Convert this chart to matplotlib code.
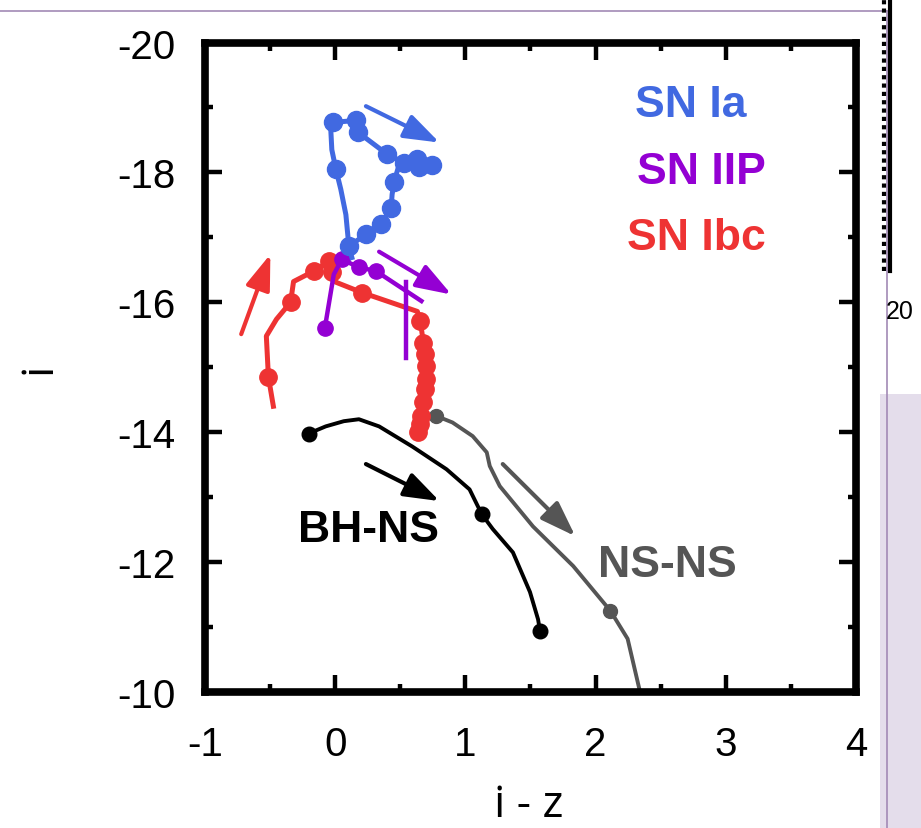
import matplotlib
matplotlib.use("Agg")
import matplotlib.pyplot as plt
from matplotlib.patches import FancyArrowPatch, Rectangle
from matplotlib.lines import Line2D

plt.rcParams['font.family'] = ['Liberation Sans', 'DejaVu Sans']
plt.rcParams['axes.unicode_minus'] = False

# ---------------- data ----------------
# SN Ia (blue)
ia_x = [0.128, 0.105, 0.082, 0.043, 0.005, -0.026, -0.034, -0.019, 0.159, 0.174,
        0.399, 0.530, 0.631, 0.747, 0.646, 0.491, 0.453, 0.437, 0.430, 0.352, 0.236, 0.105]
ia_y = [-16.69, -16.86, -17.35, -17.74, -18.05, -18.35, -18.66, -18.77, -18.80, -18.62,
        -18.28, -18.15, -18.20, -18.12, -18.08, -18.12, -17.86, -17.66, -17.46, -17.20, -17.05, -16.86]
ia_dot_x = [0.105, 0.005, -0.019, 0.159, 0.174, 0.399, 0.530, 0.631, 0.646, 0.747,
            0.453, 0.430, 0.352, 0.236]
ia_dot_y = [-16.86, -18.05, -18.77, -18.80, -18.62, -18.28, -18.15, -18.20, -18.08, -18.12,
            -17.86, -17.46, -17.20, -17.05]

# SN IIP (purple)
iip_x = [-0.080, -0.011, 0.051, 0.182, 0.314, 0.662]
iip_y = [-15.60, -16.43, -16.66, -16.54, -16.48, -16.02]
iip_dot_x = [-0.080, 0.051, 0.182, 0.314]
iip_dot_y = [-15.60, -16.66, -16.54, -16.48]
iip_drop_x = [0.546, 0.546]
iip_drop_y = [-16.31, -15.15]

# SN Ibc (red)
ibc_x = [-0.475, -0.513, -0.529, -0.451, -0.343, -0.320, -0.165, -0.049, -0.026, 0.005,
         0.206, 0.631, 0.654, 0.677, 0.692, 0.700, 0.700, 0.692, 0.677, 0.662, 0.638]
ibc_y = [-14.40, -14.85, -15.48, -15.74, -16.00, -16.32, -16.48, -16.63, -16.46, -16.31,
         -16.15, -15.86, -15.71, -15.38, -15.20, -15.02, -14.82, -14.66, -14.46, -14.25, -14.00]
ibc_dot_x = [-0.513, -0.343, -0.165, -0.049, -0.026, 0.206, 0.654, 0.677, 0.692, 0.700,
             0.700, 0.692, 0.677, 0.662, 0.650, 0.638]
ibc_dot_y = [-14.85, -16.00, -16.48, -16.63, -16.46, -16.15, -15.71, -15.38, -15.20, -15.02,
             -14.82, -14.66, -14.46, -14.25, -14.12, -14.00]

# BH-NS (black)
bhns_x = [-0.204, -0.073, 0.066, 0.182, 0.337, 0.592, 0.855, 1.032, 1.125, 1.210, 1.365, 1.496, 1.558, 1.573]
bhns_y = [-13.98, -14.09, -14.17, -14.20, -14.09, -13.78, -13.43, -13.12, -12.74, -12.51, -12.15, -11.54, -11.12, -10.94]
bhns_dot_x = [-0.204, 1.125, 1.573]
bhns_dot_y = [-13.98, -12.74, -10.94]

# NS-NS (gray)
nsns_x = [0.777, 0.901, 1.056, 1.164, 1.187, 1.264, 1.519, 1.828, 2.114, 2.246, 2.331, 2.36]
nsns_y = [-14.25, -14.15, -13.94, -13.69, -13.48, -13.17, -12.55, -11.94, -11.25, -10.82, -10.09, -9.85]
nsns_dot_x = [0.777, 2.114]
nsns_dot_y = [-14.25, -11.25]

# direction arrows: (x_start, y_start, x_end, y_end)
arrow_ia = (0.236, -19.02, 0.801, -18.46)
arrow_iip = (0.337, -16.78, 0.893, -16.12)
arrow_ibc = (-0.722, -15.51, -0.498, -16.74)
arrow_bhns = (0.236, -13.51, 0.801, -12.94)
arrow_nsns = (1.287, -13.51, 1.844, -12.40)

x_ticks = [-1, 0, 1, 2, 3, 4]
y_ticks = [-20, -18, -16, -14, -12, -10]

c_ia = '#4169E1'
c_iip = '#9400D3'
c_ibc = '#EE3333'
c_bh = '#000000'
c_ns = '#555555'

# ---------------- figure ----------------
fig = plt.figure(figsize=(9.21, 8.29), dpi=100)
ax = fig.add_axes([0.2226, 0.164, 0.7068, 0.7835])

ax.plot(bhns_x, bhns_y, color=c_bh, lw=2.8, solid_capstyle='round')
ax.plot(bhns_dot_x, bhns_dot_y, 'o', color=c_bh, ms=10.5, ls='none')
ax.plot(nsns_x, nsns_y, color=c_ns, lw=2.8)
ax.plot(nsns_dot_x, nsns_dot_y, 'o', color=c_ns, ms=10, ls='none')

ax.plot(ibc_x, ibc_y, color=c_ibc, lw=3.6)
ax.plot(ibc_dot_x, ibc_dot_y, 'o', color=c_ibc, ms=12.5, ls='none')

ax.plot(iip_x, iip_y, color=c_iip, lw=3.2)
ax.plot(iip_drop_x, iip_drop_y, color=c_iip, lw=3.2)
ax.plot(iip_dot_x, iip_dot_y, 'o', color=c_iip, ms=11, ls='none')

ax.plot(ia_x, ia_y, color=c_ia, lw=3.6)
ax.plot(ia_dot_x, ia_dot_y, 'o', color=c_ia, ms=13, ls='none')

for (x0, y0, x1, y1), col in [(arrow_ia, c_ia), (arrow_iip, c_iip), (arrow_ibc, c_ibc),
                              (arrow_bhns, c_bh), (arrow_nsns, c_ns)]:
    ar = FancyArrowPatch((x0, y0), (x1, y1), arrowstyle='-|>,head_length=1.2,head_width=0.42',
                         mutation_scale=18, lw=3.0, color=col, shrinkA=0, shrinkB=0)
    ax.add_patch(ar)

tkw = dict(fontsize=32, fontweight='bold', ha='center', va='center')
ax.text(2.733, -19.05, 'SN Ia', color=c_ia, **tkw)
ax.text(2.81, -18.02, 'SN IIP', color=c_iip, **tkw)
ax.text(2.771, -17.0, 'SN Ibc', color=c_ibc, **tkw)
ax.text(0.252, -12.51, 'BH-NS', color=c_bh, **tkw)
ax.text(2.555, -11.97, 'NS-NS', color=c_ns, **tkw)

ax.set_xlim(-1, 4)
ax.set_ylim(-10, -20)
ax.set_xticks(x_ticks)
ax.set_yticks(y_ticks)
ax.set_xticks([v + 0.5 for v in x_ticks[:-1]], minor=True)
ax.set_yticks([v + 1 for v in y_ticks[:-1]], minor=True)
ax.tick_params(which='both', direction='in', top=True, right=True, width=3.2, labelsize=29)
ax.tick_params(which='major', length=12)
ax.tick_params(which='minor', length=6)
ax.tick_params(axis='y', which='major', pad=21)
ax.tick_params(axis='x', which='major', pad=24)
for sp in ax.spines.values():
    sp.set_linewidth(5.5)

ax.set_xlabel('i - z', fontsize=32, family=['Open Sans', 'DejaVu Sans'])
ax.xaxis.set_label_coords(0.497, -0.14)
ax.set_ylabel('i', fontsize=32, family=['Open Sans', 'DejaVu Sans'])
ax.yaxis.set_label_coords(-0.22, 0.5)

# screenshot surroundings
fig.add_artist(Rectangle((880 / 921, 0), 41 / 921, 1 - 395 / 829, transform=fig.transFigure,
                         facecolor='#E4DDEB', edgecolor='none', zorder=-1))
fig.add_artist(Line2D([0, 887 / 921], [1 - 12 / 829, 1 - 12 / 829], transform=fig.transFigure,
                      color='#A28AB5', lw=1.2))
fig.add_artist(Line2D([887 / 921, 887 / 921], [0, 1 - 12 / 829], transform=fig.transFigure,
                      color='#A28AB5', lw=1.2))
fig.add_artist(Line2D([890 / 921, 890 / 921], [1 - 272 / 829, 1], transform=fig.transFigure,
                      color='black', lw=3))
fig.add_artist(Line2D([884 / 921, 884 / 921], [1 - 272 / 829, 1], transform=fig.transFigure,
                      color='black', lw=3, ls=(0, (1, 1))))
fig.text(900 / 921, 1 - 312 / 829, '20', fontsize=18, ha='center', va='center')

fig.savefig('out.png', dpi=100)
